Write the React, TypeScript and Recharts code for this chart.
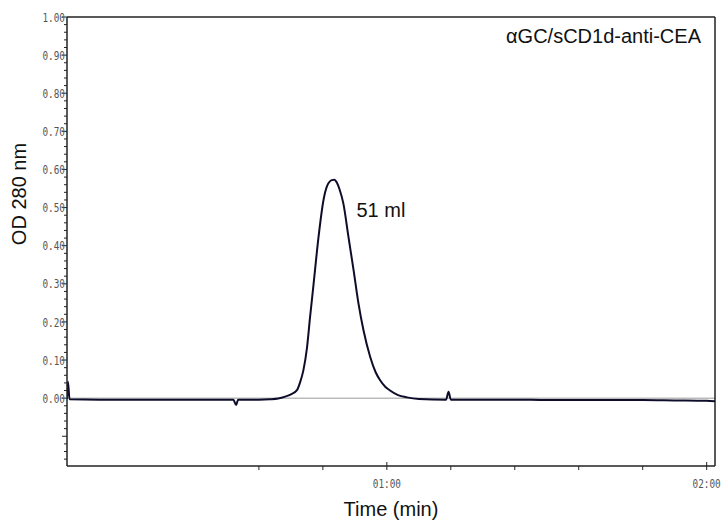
import React from "react";
import {
  LineChart,
  Line,
  XAxis,
  YAxis,
  ReferenceLine,
  ReferenceDot,
} from "recharts";

// elution time (min) and absorbance
const timeMin = [
  0, 0.003, 0.008, 0.1, 0.2, 0.3, 0.4, 0.5, 0.52, 0.529, 0.535, 0.55, 0.6,
  0.635, 0.66, 0.682, 0.7, 0.719, 0.729, 0.739, 0.75, 0.76, 0.771, 0.786,
  0.802, 0.813, 0.828, 0.836, 0.844, 0.852, 0.864, 0.88, 0.896, 0.911, 0.927,
  0.948, 0.965, 0.979, 0.995, 1.01, 1.035, 1.063, 1.1, 1.185, 1.193, 1.2, 1.3,
  1.4, 1.5, 1.6, 1.7, 1.8, 1.9, 2.0, 2.026,
];
const od280 = [
  -0.002, 0.043, -0.003, -0.004, -0.004, -0.004, -0.004, -0.004, -0.004,
  -0.018, -0.004, -0.004, -0.004, -0.003, -0.001, 0.004, 0.01, 0.021, 0.042,
  0.073, 0.13, 0.213, 0.3, 0.42, 0.52, 0.556, 0.572, 0.573, 0.565, 0.548,
  0.511, 0.423, 0.336, 0.25, 0.178, 0.108, 0.068, 0.047, 0.03, 0.02, 0.008,
  0.002, -0.002, -0.004, 0.017, -0.004, -0.004, -0.004, -0.005, -0.005,
  -0.005, -0.005, -0.006, -0.007, -0.008,
];

const xTicks = [0.6, 0.8, 1.0, 1.2, 1.4, 1.6, 1.8, 2.0];
const xTickLabels: Record<string, string> = { "1": "01:00", "2": "02:00" };
const yTicks = Array.from({ length: 59 }, (_, i) =>
  Number((-0.16 + i * 0.02).toFixed(2))
);
const xMax = 2.026;
const yMin = -0.178;
const yMax = 1.0;

const peakLabel = { time: 0.905, od: 0.493, text: "51 ml" };
const title = "αGC/sCD1d-anti-CEA";

const data = timeMin.map((t, i) => ({ t, od: od280[i] }));

const sans = "'Liberation Sans', Arial, sans-serif";
const mono = "'DejaVu Sans Mono', monospace";
const axisStroke = "#222";
const tickText = "#555";

const YTick = (props: any) => {
  const { x, y, payload } = props;
  const v = payload.value as number;
  const major = Math.abs(v * 10 - Math.round(v * 10)) < 1e-6;
  return (
    <g>
      <line x1={x - (major ? 5 : 3)} x2={x} y1={y} y2={y} stroke={axisStroke} />
      {major && v >= -1e-9 && (
        <text
          transform={`translate(${x - 2},${y}) scale(0.72,1)`}
          textAnchor="end"
          dominantBaseline="central"
          fontFamily={mono}
          fontSize={13}
          fill={tickText}
        >
          {v.toFixed(2)}
        </text>
      )}
    </g>
  );
};

const XTick = (props: any) => {
  const { x, y, payload } = props;
  const label = xTickLabels[String(payload.value)];
  return (
    <g>
      <line x1={x} x2={x} y1={label ? y - 4 : y} y2={y + 4} stroke={axisStroke} />
      {label && (
        <text
          transform={`translate(${x},${y + 17}) scale(0.72,1)`}
          textAnchor="middle"
          dominantBaseline="central"
          fontFamily={mono}
          fontSize={13}
          fill={tickText}
        >
          {label}
        </text>
      )}
    </g>
  );
};

export default function App() {
  return (
    <div style={{ width: 723, height: 521 }}>
      <style>{`body{margin:0}`}</style>
      <LineChart
        width={723}
        height={521}
        data={data}
        style={{ overflow: "visible" }}
        margin={{ top: 17, right: 8, bottom: 25, left: 0 }}
      >
        <XAxis
          dataKey="t"
          type="number"
          domain={[0, xMax]}
          allowDataOverflow
          ticks={xTicks}
          interval={0}
          tick={<XTick />}
          tickLine={false}
          tickSize={0}
          tickMargin={0}
          height={30}
          axisLine={{ stroke: axisStroke, strokeWidth: 1.5 }}
          label={{
            value: "Time (min)",
            position: "bottom",
            offset: 6,
            fontFamily: sans,
            fontSize: 20,
            fill: "#111",
          }}
        />
        <YAxis
          type="number"
          domain={[yMin, yMax]}
          allowDataOverflow
          ticks={yTicks}
          interval={0}
          tick={<YTick />}
          tickLine={false}
          tickSize={0}
          tickMargin={0}
          width={67}
          axisLine={{ stroke: axisStroke, strokeWidth: 1.5 }}
        />
        <ReferenceLine y={0} stroke="#bbb" strokeWidth={1.5} />
        <ReferenceLine y={yMax} stroke={axisStroke} strokeWidth={1.5} />
        <ReferenceLine x={xMax} stroke={axisStroke} strokeWidth={1.5} />
        <Line
          type="monotone"
          dataKey="od"
          stroke="#0d0d2b"
          strokeWidth={2}
          dot={false}
          isAnimationActive={false}
        />
        <ReferenceDot
          x={peakLabel.time}
          y={peakLabel.od}
          r={0}
          stroke="none"
          label={{
            value: peakLabel.text,
            position: "right",
            offset: 0,
            fontFamily: sans,
            fontSize: 20,
            fill: "#111",
          }}
        />
        <text
          x={701}
          y={43}
          textAnchor="end"
          fontFamily={sans}
          fontSize={20}
          fill="#111"
        >
          {title}
        </text>
        <text
          transform="translate(19,194) rotate(-90)"
          textAnchor="middle"
          dominantBaseline="central"
          fontFamily={sans}
          fontSize={20}
          fill="#111"
        >
          OD 280 nm
        </text>
      </LineChart>
    </div>
  );
}
